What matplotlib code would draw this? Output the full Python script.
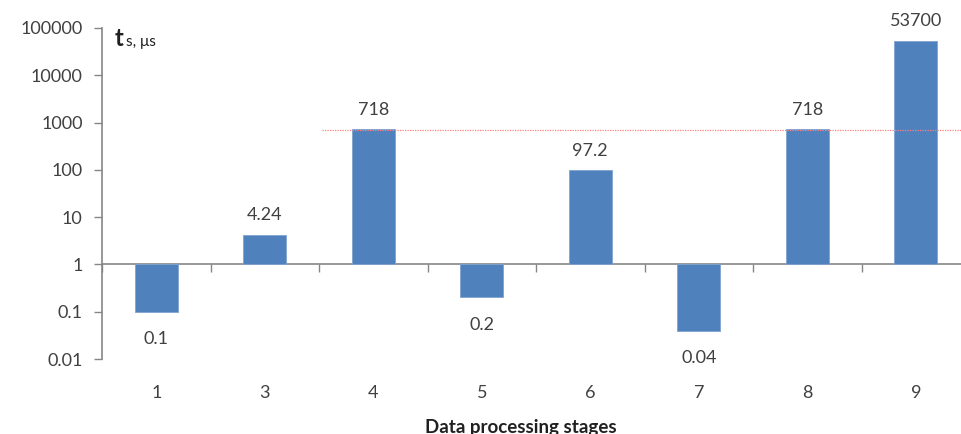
import matplotlib
matplotlib.use("Agg")
import matplotlib.pyplot as plt
import numpy as np

stages = ["1", "3", "4", "5", "6", "7", "8", "9"]
values = [0.1, 4.24, 718, 0.2, 97.2, 0.04, 718, 53700]
labels = ["0.1", "4.24", "718", "0.2", "97.2", "0.04", "718", "53700"]
ref_level = 700
ytick_vals = [0.01, 0.1, 1, 10, 100, 1000, 10000, 100000]
ytick_labels = ["0.01", "0.1", "1", "10", "100", "1000", "10000", "100000"]

plt.rcParams['font.family'] = ['Lato', 'DejaVu Sans']
axis_gray = "#868686"
text_col = "#404040"

fig = plt.figure(figsize=(9.61, 4.34), dpi=100)
W, H = 961, 434
left, right, top, bottom = 102, 970, 28, 359
ax = fig.add_axes([left / W, 1 - bottom / H, (right - left) / W, (bottom - top) / H])

x = np.arange(len(stages))
base = 1.0
heights = [v - base for v in values]
ax.bar(x, heights, bottom=base, width=0.4, color="#4F81BD", edgecolor="#7FA3D0", linewidth=0.6, zorder=3)

ax.set_yscale("log")
ax.set_ylim(0.01, 100000)
ax.set_xlim(-0.5, len(stages) - 0.5)
ax.set_yticks(ytick_vals)
ax.set_yticklabels(ytick_labels)
ax.yaxis.set_minor_locator(matplotlib.ticker.NullLocator())
ax.tick_params(axis="y", direction="out", length=6, width=1, color=axis_gray,
               labelsize=13, labelcolor=text_col, pad=8)

for s in ["top", "right"]:
    ax.spines[s].set_visible(False)
ax.spines["left"].set_color(axis_gray)
ax.spines["left"].set_linewidth(1.2)
ax.spines["bottom"].set_position(("data", 1))
ax.spines["bottom"].set_color(axis_gray)
ax.spines["bottom"].set_linewidth(1.2)
ax.set_xticks(x)
ax.set_xticklabels([])
ax.tick_params(axis="x", which="major", length=0)
ax.set_xticks(np.arange(-0.5, len(stages), 1.0), minor=True)
ax.tick_params(axis="x", which="minor", direction="out", length=6, width=1, color=axis_gray)

sec = ax.secondary_xaxis("bottom")
sec.set_xticks(x)
sec.set_xticklabels(stages)
sec.spines["bottom"].set_visible(False)
sec.tick_params(axis="x", length=0, labelsize=13, labelcolor=text_col, pad=19)

# reference line
ax.hlines(ref_level, 1.53, len(stages) - 0.5, colors="#FF8080", linewidth=0.9, linestyles=(0, (1, 1)), zorder=4)

for xi, v, lab in zip(x, values, labels):
    off = 14 if v >= 1 else -20
    ax.annotate(lab, (xi, v), xytext=(0, off), textcoords="offset points",
                ha="center", va="center", fontsize=13, color=text_col)

fig.text(115 / W, 1 - 38 / H, "t", fontsize=17, fontweight="bold", color="#202020", va="center", ha="left")
fig.text(126 / W, 1 - 42 / H, "s, μs", fontsize=11, color="#202020", va="center", ha="left")
fig.text(521 / W, 1 - 427 / H, "Data processing stages", fontsize=13.5, fontweight="bold",
         color="#202020", ha="center", va="center")

fig.savefig("out.png", dpi=100)
